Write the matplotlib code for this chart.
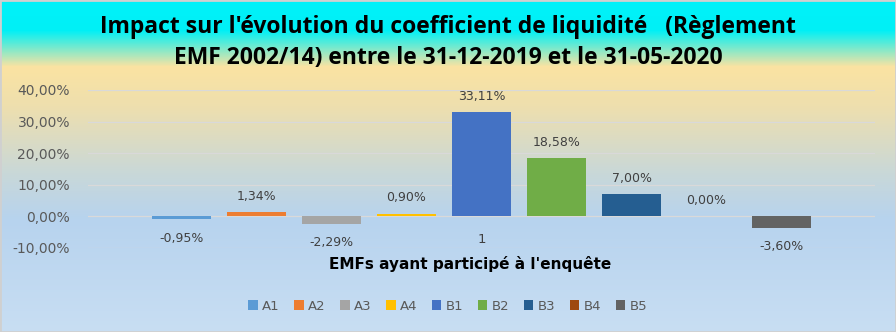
import numpy as np
import matplotlib.pyplot as plt
from matplotlib.colors import LinearSegmentedColormap
from matplotlib.patches import Rectangle

series = ["A1", "A2", "A3", "A4", "B1", "B2", "B3", "B4", "B5"]
values = [-0.95, 1.34, -2.29, 0.90, 33.11, 18.58, 7.00, 0.00, -3.60]
colors = ["#5B9BD5", "#ED7D31", "#A5A5A5", "#FFC000", "#4472C4",
          "#70AD47", "#255E91", "#9E480E", "#636363"]
yticks = [-10, 0, 10, 20, 30, 40]

title = ("Impact sur l'évolution du coefficient de liquidité   (Règlement\n"
         "EMF 2002/14) entre le 31-12-2019 et le 31-05-2020")

plt.rcParams['font.family'] = ['DejaVu Sans']

fig = plt.figure(figsize=(8.96, 3.32), dpi=100)

# background gradient: cyan -> pale orange -> light blue
bg = fig.add_axes([0, 0, 1, 1], zorder=-10)
cmap = LinearSegmentedColormap.from_list(
    "bg", [(0.0, "#00F2FA"), (0.09, "#00F0F6"), (0.20, "#FBE3A2"),
           (0.32, "#EEDFAE"), (0.52, "#C9D8D8"), (0.66, "#B7D3EE"),
           (1.0, "#C8DEF3")])
bg.imshow(np.linspace(0, 1, 256).reshape(-1, 1), aspect="auto", cmap=cmap,
          extent=[0, 1, 0, 1])
bg.add_patch(Rectangle((0, 0), 1, 1, transform=bg.transAxes, fill=False,
                       edgecolor="#D0D0D0", linewidth=2))
bg.set_axis_off()

ax = fig.add_axes([88 / 896, 1 - 248 / 332, (875 - 88) / 896, (248 - 90) / 332])
ax.patch.set_alpha(0)

slot = 0.0953
width = 0.075
for i, (s, v, c) in enumerate(zip(series, values, colors)):
    x = 1 + (i - 4) * slot
    ax.bar(x, v, width=width, color=c, label=s, zorder=3)
    lbl = f"{v:.2f}".replace(".", ",") + "%"
    if v >= 0:
        ax.text(x, v + 2.9, lbl, ha="center", va="bottom", fontsize=9, color="#404040")
    else:
        ax.text(x, v - 4.0, lbl, ha="center", va="top", fontsize=9, color="#404040")

ax.set_xlim(0.5, 1.5)
ax.set_ylim(-10, 40)
ax.set_yticks(yticks)
ax.set_yticklabels([f"{t:.2f}".replace(".", ",") + "%" for t in yticks],
                   fontsize=10, color="#595959")
ax.set_xticks([1])
ax.set_xticklabels(["1"], fontsize=9.5, color="#404040")
ax.tick_params(length=0)
ax.tick_params(axis="y", pad=13)
ax.tick_params(axis="x", pad=-11)
ax.grid(axis="y", color="#D9D9D9", linewidth=0.9, zorder=0)
for sp in ax.spines.values():
    sp.set_visible(False)

fig.text(0.525, 1 - 264 / 332, "EMFs ayant participé à l'enquête", ha="center",
         va="center", fontsize=11, fontweight="bold", color="#000000")

fig.text(0.5, 1 - 42.5 / 332, title, ha="center", va="center", fontsize=16.5,
         fontweight="bold", color="#000000", linespacing=1.42,
         family=["Open Sans", "DejaVu Sans"])

fig.legend(loc="center", bbox_to_anchor=(0.5, 1 - 306 / 332), ncol=9,
           frameon=False, fontsize=9.5, handlelength=0.7, handleheight=0.7,
           handletextpad=0.35, columnspacing=1.1, labelcolor="#595959")

fig.savefig("out.png", dpi=100)
plt.close(fig)
